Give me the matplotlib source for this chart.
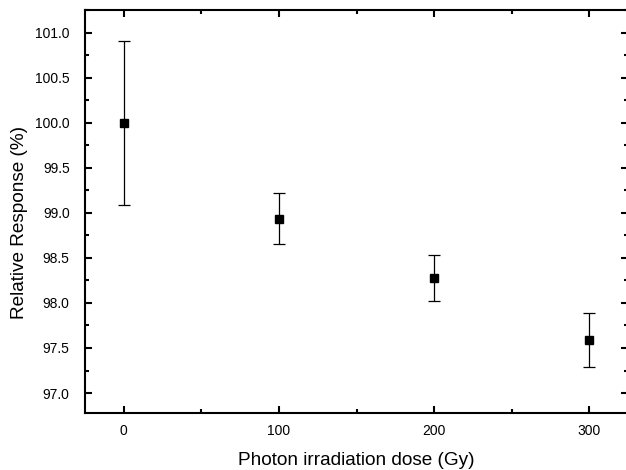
import matplotlib
matplotlib.use("Agg")
import matplotlib.pyplot as plt
from matplotlib.ticker import MultipleLocator, FormatStrFormatter

plt.rcParams['font.family'] = ['Liberation Sans', 'DejaVu Sans']

dose = [0, 100, 200, 300]
response = [100.0, 98.935, 98.276, 97.585]
error = [0.91, 0.285, 0.257, 0.30]

fig = plt.figure(figsize=(6.26, 4.70), dpi=100)
ax = fig.add_axes([0.1358, 0.1206, 0.8674, 0.8581])

ax.errorbar(dose, response, yerr=error, fmt='s', color='black', markersize=6,
            ecolor='black', elinewidth=0.9, capsize=4, capthick=0.9)

ax.set_xlim(-25, 325)
ax.set_ylim(96.775, 101.25)
ax.xaxis.set_major_locator(MultipleLocator(100))
ax.xaxis.set_minor_locator(MultipleLocator(50))
ax.yaxis.set_major_locator(MultipleLocator(0.5))
ax.yaxis.set_minor_locator(MultipleLocator(0.25))
ax.yaxis.set_major_formatter(FormatStrFormatter('%.1f'))

ax.tick_params(which='both', direction='in', top=True, right=True, width=1.5,
               labelsize=10, colors='black')
ax.tick_params(which='major', length=5)
ax.tick_params(axis='x', which='major', pad=8)
ax.tick_params(axis='y', which='major', pad=11)
ax.tick_params(which='minor', length=3)
for s in ax.spines.values():
    s.set_linewidth(1.5)

ax.set_xlabel('Photon irradiation dose (Gy)', fontsize=13.7, labelpad=10)
ax.set_ylabel('Relative Response (%)', fontsize=13.7, labelpad=5)
ax.yaxis.label.set_y(0.473)

fig.savefig('out.png', dpi=100)
